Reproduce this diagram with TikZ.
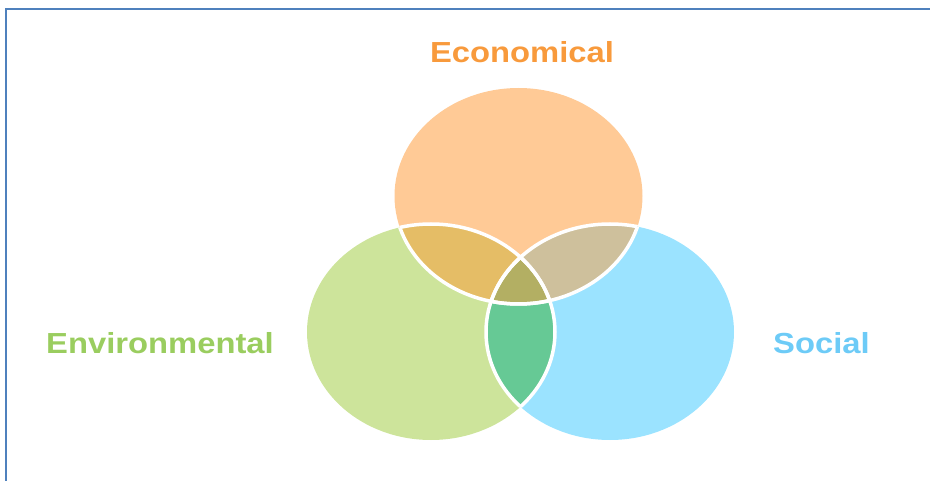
\documentclass[tikz,border=0pt]{standalone}
\usepackage{fontspec}
\setmainfont{Liberation Sans}
\definecolor{frameblue}{HTML}{4F81BD}
\definecolor{ecofill}{HTML}{FFCA96}
\definecolor{envfill}{HTML}{CDE49B}
\definecolor{socfill}{HTML}{9BE3FF}
\definecolor{ecoenv}{HTML}{E5BD66}
\definecolor{ecosoc}{HTML}{CEC09C}
\definecolor{envsoc}{HTML}{66C995}
\definecolor{allthree}{HTML}{B3AF63}
\definecolor{ecotext}{HTML}{F89A3C}
\definecolor{envtext}{HTML}{9ACD5F}
\definecolor{soctext}{HTML}{6DCBF7}
\begin{document}
\begin{tikzpicture}[x=1pt,y=-1pt,
    lbl/.style={font=\fontsize{29}{29}\selectfont\bfseries, xscale=1.13, inner sep=0pt, anchor=base},
    seam/.style={draw=white, line width=3.5pt},
    oval/.style={x radius=124pt, y radius=108pt}]
  \useasboundingbox (0,0) rectangle (930,481);
  % frame
  \draw[frameblue, line width=2.6pt] (5.8,481) -- (5.8,9) -- (930,9);
  % centres
  \coordinate (eco) at (518.5,196);
  \coordinate (env) at (431,332);
  \coordinate (soc) at (610,332);
  % circles
  \fill[ecofill] (eco) ellipse [oval];
  \fill[envfill] (env) ellipse [oval];
  \fill[socfill] (soc) ellipse [oval];
  % overlaps
  \begin{scope}
    \clip (eco) ellipse [oval];
    \fill[ecoenv] (env) ellipse [oval];
    \fill[ecosoc] (soc) ellipse [oval];
  \end{scope}
  \begin{scope}
    \clip (env) ellipse [oval];
    \fill[envsoc] (soc) ellipse [oval];
  \end{scope}
  \begin{scope}
    \clip (eco) ellipse [oval];
    \clip (env) ellipse [oval];
    \fill[allthree] (soc) ellipse [oval];
  \end{scope}
  % white seams
  \begin{scope}
    \clip (eco) ellipse [oval];
    \draw[seam] (env) ellipse [oval];
    \draw[seam] (soc) ellipse [oval];
  \end{scope}
  \begin{scope}
    \clip (env) ellipse [oval];
    \draw[seam] (eco) ellipse [oval];
    \draw[seam] (soc) ellipse [oval];
  \end{scope}
  \begin{scope}
    \clip (soc) ellipse [oval];
    \draw[seam] (eco) ellipse [oval];
    \draw[seam] (env) ellipse [oval];
  \end{scope}
  % labels
  \node[lbl, text=ecotext] (ecolabel) at (522,63) {Economical};
  \node[lbl, text=envtext] (envlabel) at (160,353) {Environmental};
  \node[lbl, text=soctext] (soclabel) at (821.5,353) {Social};
\end{tikzpicture}
\end{document}
